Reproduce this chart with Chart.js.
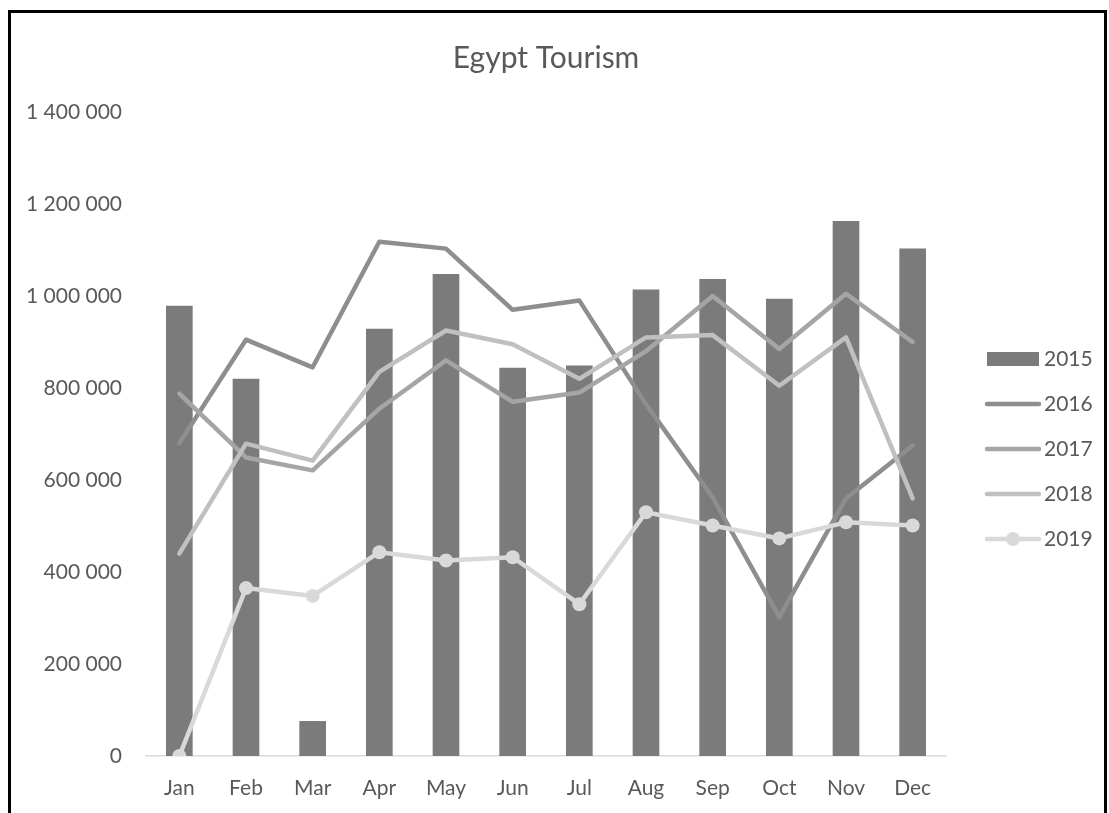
<!DOCTYPE html>
<html>
<head>
<meta charset="utf-8">
<script src="https://cdn.jsdelivr.net/npm/chart.js@4/dist/chart.umd.min.js"></script>
<style>
  body { margin: 0; background: #fff; }
  #wrap { position: absolute; left: 0; top: 0; width: 1109px; height: 813px; }
  #frame { position: absolute; left: 8px; top: 10px; width: 1093px; height: 900px; border: 3px solid #000; }
</style>
</head>
<body>
<div id="frame"></div>
<div id="wrap"><canvas id="tourismChart"></canvas></div>
<script>
const months = ['Jan','Feb','Mar','Apr','May','Jun','Jul','Aug','Sep','Oct','Nov','Dec'];
const years = ['2015','2016','2017','2018','2019'];
const visitors2015 = [979000, 820000, 76000, 929000, 1048000, 844000, 849000, 1014000, 1037000, 994000, 1163000, 1103000];
const visitors2016 = [680000, 905000, 845000, 1118000, 1103000, 970000, 990000, 765000, 562000, 302000, 560000, 675000];
const visitors2017 = [788000, 649000, 621000, 755000, 860000, 770000, 790000, 880000, 1000000, 885000, 1005000, 900000];
const visitors2018 = [440000, 679000, 642000, 835000, 925000, 895000, 820000, 910000, 915000, 805000, 910000, 560000];
const visitors2019 = [0, 365000, 348000, 443000, 425000, 432000, 330000, 530000, 501000, 473000, 508000, 501000];
const yTicks = [0, 200000, 400000, 600000, 800000, 1000000, 1200000, 1400000];

const textColor = '#595959';
const fontFamily = 'Lato, "Open Sans", sans-serif';

function spaced(v){
  return String(v).replace(/\B(?=(\d{3})+(?!\d))/g, ' ');
}

function lineSet(label, data, color, order, withDots){
  return {
    type: 'line',
    label: label,
    data: data,
    borderColor: color,
    backgroundColor: color,
    borderWidth: 4.5,
    borderCapStyle: 'round',
    borderJoinStyle: 'round',
    pointRadius: withDots ? 7 : 0,
    pointHoverRadius: withDots ? 7 : 0,
    pointBorderWidth: 0,
    tension: 0,
    order: order
  };
}

// draws the legend on the right like the original
const sideLegend = {
  id: 'sideLegend',
  afterDraw(chart){
    const ctx = chart.ctx;
    const rows = [359, 404, 449, 494, 539];
    ctx.save();
    chart.data.datasets.forEach(function(ds, i){
      const y = rows[i];
      if(ds.type === 'line'){
        ctx.strokeStyle = ds.borderColor;
        ctx.lineWidth = 4.5;
        ctx.lineCap = 'round';
        ctx.beginPath();
        ctx.moveTo(987, y);
        ctx.lineTo(1039, y);
        ctx.stroke();
        if(ds.pointRadius > 0){
          ctx.fillStyle = ds.backgroundColor;
          ctx.beginPath();
          ctx.arc(1013, y, 7, 0, Math.PI*2);
          ctx.fill();
        }
      } else {
        ctx.fillStyle = ds.backgroundColor;
        ctx.fillRect(987, y - 7, 52, 14);
      }
      ctx.fillStyle = textColor;
      ctx.font = '21px ' + fontFamily;
      ctx.textBaseline = 'middle';
      ctx.textAlign = 'left';
      ctx.fillText(ds.label, 1044, y);
    });
    ctx.restore();
  }
};

const chartData = {
  labels: months,
  datasets: [
    {
      type: 'bar',
      label: years[0],
      data: visitors2015,
      backgroundColor: '#7b7b7b',
      barPercentage: 0.4,
      categoryPercentage: 1,
      order: 10
    },
    lineSet(years[1], visitors2016, '#8e8e8e', 4, false),
    lineSet(years[2], visitors2017, '#a5a5a5', 3, false),
    lineSet(years[3], visitors2018, '#c0c0c0', 2, false),
    lineSet(years[4], visitors2019, '#d9d9d9', 1, true)
  ]
};

new Chart(document.getElementById('tourismChart'), {
  type: 'bar',
  data: chartData,
  options: {
    responsive: true,
    maintainAspectRatio: false,
    animation: false,
    layout: { padding: { left: 0, right: 163, top: 0, bottom: 0 } },
    plugins: {
      legend: { display: false },
      tooltip: { enabled: false },
      title: {
        display: true,
        text: 'Egypt Tourism',
        color: textColor,
        fullSize: false,
        font: { family: fontFamily, size: 30, weight: 'normal', lineHeight: 1.2 },
        padding: { top: 40, bottom: 36 }
      }
    },
    scales: {
      x: {
        offset: true,
        grid: { display: false, drawTicks: false },
        border: { display: true, color: '#d9d9d9', width: 1.5 },
        ticks: { color: textColor, font: { family: fontFamily, size: 21 }, padding: 20 },
        afterFit(scale){ scale.height = 57; }
      },
      y: {
        min: 0,
        max: 1400000,
        grid: { display: false, drawTicks: false },
        border: { display: false },
        afterBuildTicks(scale){ scale.ticks = yTicks.map(v => ({ value: v })); },
        ticks: {
          color: textColor,
          font: { family: fontFamily, size: 21 },
          padding: 24,
          callback: v => spaced(v)
        },
        afterFit(scale){ scale.width = 146; }
      }
    }
  },
  plugins: [sideLegend]
});
</script>
</body>
</html>
